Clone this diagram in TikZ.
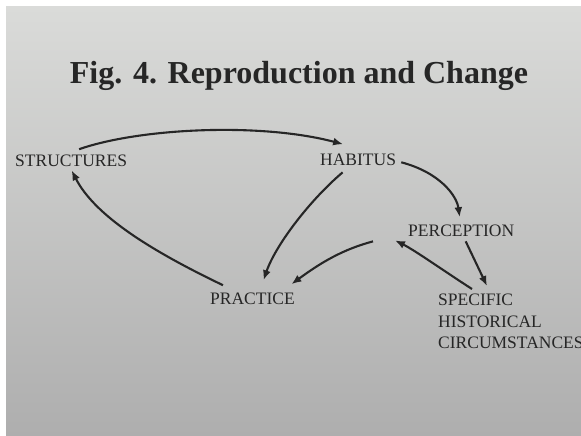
\documentclass[tikz,border=0pt]{standalone}
\usepackage{fontspec}
\setmainfont{Liberation Serif}
\usetikzlibrary{arrows.meta}
\definecolor{ink}{RGB}{38,38,38}
\definecolor{pagetop}{RGB}{218,219,217}
\definecolor{pagemid}{RGB}{206,206,204}
\definecolor{pagebot}{RGB}{174,174,174}
\tikzset{
  lbl/.style={inner sep=0pt, text=ink, font=\fontsize{17.5}{21.5}\selectfont},
  conn/.style={draw=ink, line width=2.1pt, -{Latex[length=10pt,width=8pt]}}
}
\begin{document}
\begin{tikzpicture}[x=1pt,y=-1pt]
\useasboundingbox (0,0) rectangle (581,436);
\fill[white] (0,0) rectangle (581,436);
\shade[top color=pagetop, middle color=pagemid, bottom color=pagebot] (6,7) rectangle (581,436);

\node[inner sep=0pt, text=ink, font=\fontsize{32}{36}\selectfont\bfseries, anchor=base] (title) at (299,83) {Fig. 4. Reproduction and Change};

\node[lbl, anchor=base west] (st) at (15,166) {STRUCTURES};
\node[lbl, anchor=base west] (hab) at (320,165) {HABITUS};
\node[lbl, anchor=base west] (per) at (408,236) {PERCEPTION};
\node[lbl, anchor=base west] (pra) at (210,304) {PRACTICE};
\node[lbl, anchor=north west, align=left] (spec) at (438,294) {SPECIFIC\\HISTORICAL\\CIRCUMSTANCES};

\draw[conn] ([shift={(8,-5)}]st.north) .. controls +(60,-21) and +(-83,-22) .. ([shift={(-15,-9)}]hab.north);
\draw[conn] ([shift={(5,3)}]hab.east) .. controls +(38,10) and +(-3,-22) .. ([shift={(-1.5,-7)}]per.north);
\draw[conn] ([shift={(4.5,5)}]per.south) -- ([shift={(49,-8)}]spec.north west);
\draw[conn] ([shift={(34,-5)}]spec.north west) .. controls +(-25,-16) and +(20,10) .. ([shift={(-13,4)}]per.south west);
\draw[conn] ([shift={(-35,5)}]per.south west) .. controls +(-30,8) and +(30,-22) .. ([shift={(-3.6,-8)}]pra.north east);
\draw[conn] ([shift={(-15.5,7)}]hab.south) .. controls +(-33,28) and +(12,-35) .. ([shift={(11,-12)}]pra.north);
\draw[conn] ([shift={(13,-7)}]pra.north west) .. controls +(-73,-35) and +(23,45) .. ([shift={(0.5,4)}]st.south);
\end{tikzpicture}
\end{document}
